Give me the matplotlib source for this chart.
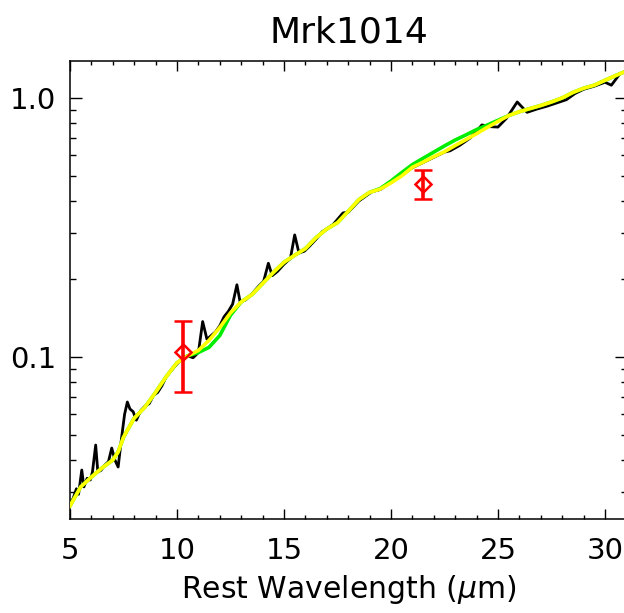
import numpy as np
import matplotlib
matplotlib.use("Agg")
import matplotlib.pyplot as plt
from matplotlib.ticker import FixedLocator, NullFormatter, FixedFormatter

# observed spectrum (black)
spec_wave = [5.0, 5.15, 5.3, 5.4, 5.55, 5.65, 5.8, 5.95, 6.05, 6.2, 6.3, 6.45, 6.6, 6.8,
             6.95, 7.1, 7.25, 7.4, 7.55, 7.68, 7.8, 7.95, 8.1, 8.3, 8.5, 8.7, 8.9, 9.1,
             9.3, 9.5, 9.7, 9.9, 10.1, 10.3, 10.5, 10.75, 11.0, 11.2, 11.4, 11.6, 11.8,
             12.0, 12.2, 12.4, 12.6, 12.8, 12.95, 13.2, 13.5, 13.8, 14.05, 14.27, 14.45,
             14.7, 15.0, 15.3, 15.5, 15.7, 15.95, 16.2, 16.5, 16.8, 17.0, 17.3, 17.76,
             18.0, 18.5, 19.1, 19.5, 20.0, 20.5, 21.0, 21.5, 22.0, 22.5, 22.76, 23.2,
             23.7, 24.0, 24.25, 24.6, 25.0, 25.4, 25.9, 26.36, 26.8, 27.3, 27.8, 28.2,
             28.6, 29.0, 29.5, 30.0, 30.3, 30.7, 31.0]
spec_flux = [0.027, 0.0285, 0.031, 0.0295, 0.0366, 0.0315, 0.034, 0.0335, 0.036, 0.0457,
             0.036, 0.0365, 0.038, 0.0395, 0.0445, 0.040, 0.0376, 0.048, 0.060, 0.067,
             0.063, 0.0615, 0.057, 0.062, 0.0645, 0.066, 0.071, 0.073, 0.0775, 0.084,
             0.088, 0.092, 0.096, 0.100, 0.101, 0.0993, 0.104, 0.137, 0.117, 0.121, 0.125,
             0.132, 0.143, 0.150, 0.160, 0.190, 0.163, 0.166, 0.175, 0.187, 0.196, 0.230,
             0.206, 0.214, 0.228, 0.240, 0.296, 0.252, 0.256, 0.268, 0.285, 0.305, 0.312,
             0.325, 0.360, 0.362, 0.400, 0.434, 0.443, 0.472, 0.502, 0.538, 0.563, 0.590,
             0.618, 0.625, 0.655, 0.700, 0.745, 0.787, 0.775, 0.772, 0.835, 0.965, 0.880,
             0.905, 0.930, 0.960, 0.985, 1.04, 1.08, 1.11, 1.15, 1.12, 1.24, 1.27]

# model fits
fit_wave = [5.0, 5.5, 6.0, 6.5, 7.0, 7.25, 7.5, 8.0, 8.5, 9.0, 9.5, 10.0, 10.5, 11.0,
            11.5, 12.0, 12.5, 13.0, 13.5, 14.0, 14.5, 15.0, 15.5, 16.0, 16.5, 17.0,
            17.5, 18.0, 18.5, 19.0, 19.5, 20.0, 20.5, 21.0, 21.5, 22.0, 22.5, 23.0,
            23.5, 24.0, 24.5, 25.0, 25.5, 26.0, 26.5, 27.0, 27.5, 28.0, 28.5, 29.0,
            29.5, 30.0, 30.5, 31.0]
yellow_flux = [0.0266, 0.0315, 0.0344, 0.0373, 0.040, 0.043, 0.049, 0.058, 0.064, 0.073,
               0.084, 0.095, 0.101, 0.106, 0.116, 0.130, 0.148, 0.163, 0.174, 0.192,
               0.212, 0.232, 0.247, 0.262, 0.289, 0.312, 0.330, 0.365, 0.405, 0.432,
               0.445, 0.470, 0.500, 0.540, 0.565, 0.593, 0.620, 0.655, 0.690, 0.728,
               0.770, 0.812, 0.855, 0.885, 0.910, 0.935, 0.965, 1.00, 1.05, 1.09, 1.12,
               1.17, 1.22, 1.27]
green_flux = [0.0266, 0.0315, 0.0344, 0.0373, 0.040, 0.043, 0.049, 0.058, 0.064, 0.073,
              0.084, 0.095, 0.101, 0.104, 0.109, 0.121, 0.145, 0.163, 0.174, 0.192,
              0.212, 0.232, 0.247, 0.262, 0.289, 0.312, 0.330, 0.365, 0.405, 0.432,
              0.447, 0.478, 0.515, 0.553, 0.585, 0.618, 0.653, 0.688, 0.720, 0.755,
              0.786, 0.820, 0.855, 0.885, 0.910, 0.935, 0.965, 1.00, 1.05, 1.09, 1.12,
              1.17, 1.22, 1.27]

# photometry points
phot_wave = [10.28, 21.5]
phot_flux = [0.1045, 0.466]
phot_lo = [0.0733, 0.407]
phot_hi = [0.138, 0.527]

plt.rcParams['font.family'] = ['DejaVu Sans']

fig = plt.figure(figsize=(6.24, 6.13), dpi=100)
ax = fig.add_axes([70 / 624, 94 / 613, 557 / 624, 458 / 613])

ax.plot(spec_wave, spec_flux, color='black', lw=2.0, zorder=2)
ax.plot(fit_wave, green_flux, color='#00ee00', lw=2.6, zorder=3)
ax.plot(fit_wave, yellow_flux, color='#ffff00', lw=2.6, zorder=4)

yerr = [np.array(phot_flux) - np.array(phot_lo), np.array(phot_hi) - np.array(phot_flux)]
ax.errorbar(phot_wave, phot_flux, yerr=yerr, fmt='D', color='red', ms=8.5,
            mfc='none', mew=1.8, elinewidth=2.6, capsize=6.5, capthick=2.6, zorder=5)

ax.set_yscale('log')
ax.set_xlim(5, 31.03)
ax.set_ylim(0.02368, 1.389)

ax.set_xticks([5, 10, 15, 20, 25, 30])
ax.xaxis.set_minor_locator(FixedLocator(np.arange(5, 32, 1)))
ax.yaxis.set_major_locator(FixedLocator([0.1, 1.0]))
ax.yaxis.set_major_formatter(FixedFormatter(['0.1', '1.0']))
minor_y = [0.03, 0.04, 0.05, 0.06, 0.07, 0.08, 0.09, 0.2, 0.3, 0.4, 0.5, 0.6, 0.7, 0.8, 0.9]
ax.yaxis.set_minor_locator(FixedLocator(minor_y))
ax.yaxis.set_minor_formatter(NullFormatter())

ax.tick_params(axis='both', which='both', direction='in', top=True, right=True,
               width=1.0, labelsize=21)
ax.tick_params(axis='x', which='major', length=7.5, pad=13)
ax.tick_params(axis='x', which='minor', length=3.2)
ax.tick_params(axis='y', which='major', length=8.6, pad=10)
ax.tick_params(axis='y', which='minor', length=4.3)
for s in ax.spines.values():
    s.set_linewidth(1.1)

ax.set_xlabel(r'Rest Wavelength ($\mu$m)', fontsize=21.5, labelpad=6)
ax.set_title('Mrk1014', fontsize=26, pad=13)

fig.savefig('out.png', dpi=100)
